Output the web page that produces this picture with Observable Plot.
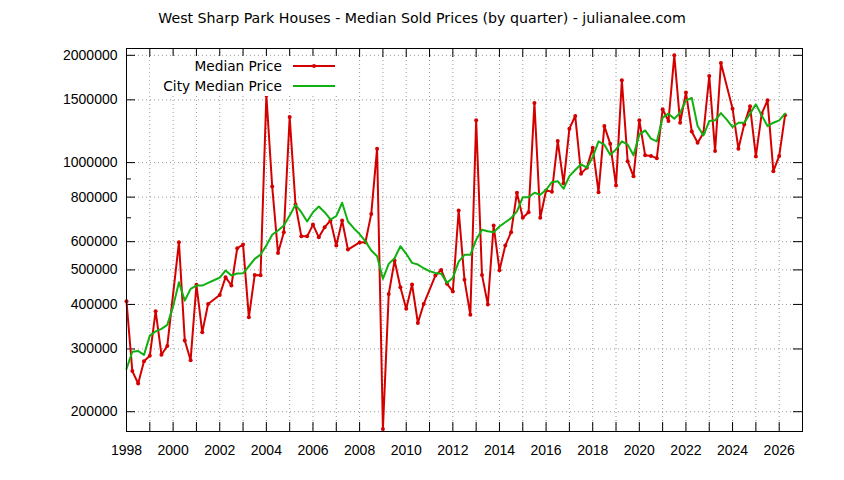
<!DOCTYPE html>
<html><head><meta charset="utf-8">
<script src="https://cdn.jsdelivr.net/npm/d3@7"></script>
<script src="https://cdn.jsdelivr.net/npm/@observablehq/plot@0.6"></script>
<style>
body{margin:0;background:#fff;font-family:"DejaVu Sans",Verdana,sans-serif;color:#000}
#wrap{position:relative;width:844px;height:480px;overflow:hidden}
#title{height:30px;line-height:37px;text-align:center;font-size:14.2px;white-space:nowrap}
#legend{position:absolute;left:150px;top:56px;width:190px;background:#fff;font-size:13.7px;padding:0}
.row{display:flex;align-items:center;height:20px}
.row span{display:inline-block;width:132px;text-align:right;margin-right:11px;white-space:nowrap}
</style></head><body>
<div id="wrap">
<div id="title">West Sharp Park Houses - Median Sold Prices (by quarter) - julianalee.com</div>
<div id="chart"></div>
<div id="legend"></div>
</div>
<script>
// quarterly series, first value = 1998 Q1; null = no sales that quarter
const startYear = 1998;
const medianPrice = [
  408000, 260000, 240000, 277000,
  287000, 383000, 289000, 306000,
  null, 598000, 317000, 279000,
  454000, 334000, 401000, null,
  425000, 477000, 452000, 575000,
  589000, 368000, 484000, 483000,
  1544000, 857000, 558000, 638000,
  1342000, 763000, 621000, 621000,
  670000, 617000, 659000, 688000,
  585000, 688000, 570000, null,
  597000, 598000, 718000, 1094000,
  179000, 428000, 531000, 447000,
  389000, 455000, 355000, 401000,
  null, 482000, 500000, 457000,
  435000, 734000, 469000, 374000,
  1314000, 484000, 400000, 666000,
  499000, 585000, 638000, 823000,
  700000, 726000, 1469000, 700000,
  835000, 829000, 1149000, 875000,
  1245000, 1351000, 931000, 968000,
  1101000, 826000, 1266000, 1130000,
  863000, 1702000, 1008000, 915000,
  1314000, 1048000, 1044000, 1029000,
  1411000, 1308000, 2000000, 1294000,
  1572000, 1223000, 1137000, 1210000,
  1750000, 1077000, 1903000, null,
  1417000, 1094000, 1280000, 1438000,
  1041000, 1372000, 1495000, 946000,
  1044000, 1357000
];
const cityMedianPrice = [
  263600, 294800, 296000, 288600,
  327000, 336200, 341500, 350400,
  395000, 461600, 410000, 442300,
  451800, 451800, 459800, 467600,
  475800, 498000, 482000, 488300,
  489000, 511900, 537000, 552000,
  585000, 627200, 645000, 666000,
  710600, 761600, 726000, 683600,
  726000, 753200, 726000, 692400,
  707500, 771500, 683600, 654600,
  630000, 601000, 566600, 546000,
  471800, 519900, 539100, 582600,
  554700, 523300, 517600, 505300,
  496000, 490000, 488000, 459800,
  474900, 527700, 551100, 551100,
  607200, 647800, 642000, 637800,
  661800, 680400, 698300, 729300,
  800000, 800000, 823000, 812400,
  839100, 881000, 887000, 844600,
  916400, 953000, 989000, 967600,
  1036000, 1147000, 1123000, 1052000,
  1089000, 1147000, 1123000, 1048000,
  1198000, 1231000, 1167000, 1147000,
  1337000, 1372000, 1328000, 1381000,
  1495000, 1518000, 1266000, 1192000,
  1308000, 1314000, 1377000, 1320000,
  1258000, 1294000, 1294000, 1372000,
  1457000, 1357000, 1266000, 1294000,
  1314000, 1372000
];
const seriesNames = ["Median Price", "City Median Price"];
const seriesColors = ["#d40000", "#10b010"];
const xDomain = [1998, 2027];
const xLabelYears = [1998, 2000, 2002, 2004, 2006, 2008, 2010, 2012, 2014, 2016, 2018, 2020, 2022, 2024, 2026];
const xTickYears = d3.range(1999, 2027);
const yDomain = [176000, 2090000];
const yTickValues = [200000, 300000, 400000, 500000, 600000, 800000, 1000000, 1500000, 2000000];
const yMinorTicks = [700000, 900000];

const medianRows = medianPrice.map((v, i) => ({t: startYear + i / 4, v})).filter(d => d.v != null);
const cityRows = cityMedianPrice.map((v, i) => ({t: startYear + i / 4, v})).filter(d => d.v != null);

const W = 844, H = 450, mt = 18, mb = 49, ml = 126, mr = 42;
const fh = H - mt - mb, fw = W - ml - mr;
const gridStyle = {stroke: "#999", strokeWidth: 1, strokeDasharray: "1,3"};

const chart = Plot.plot({
  width: W, height: H,
  marginTop: mt, marginBottom: mb, marginLeft: ml, marginRight: mr,
  style: {fontFamily: "'Liberation Sans', Arial, sans-serif", fontSize: "14px", background: "#fff", color: "#000"},
  x: {domain: xDomain, ticks: xLabelYears, tickFormat: "d", tickSize: 0, tickPadding: 14, label: null},
  y: {type: "log", domain: yDomain, ticks: yTickValues, tickFormat: d3.format("d"), tickSize: 0, tickPadding: 9, label: null},
  marks: [
    Plot.ruleX(xTickYears, {x: d => d, ...gridStyle}),
    Plot.ruleY(yTickValues, {y: d => d, ...gridStyle}),
    Plot.tickX(xTickYears, {x: d => d, stroke: "#000", insetTop: fh - 9}),
    Plot.tickX(xTickYears, {x: d => d, stroke: "#000", insetBottom: fh - 9}),
    Plot.tickY(yTickValues, {y: d => d, stroke: "#000", insetRight: fw - 9}),
    Plot.tickY(yTickValues, {y: d => d, stroke: "#000", insetLeft: fw - 9}),
    Plot.tickY(yMinorTicks, {y: d => d, stroke: "#000", insetRight: fw - 5}),
    Plot.tickY(yMinorTicks, {y: d => d, stroke: "#000", insetLeft: fw - 5}),
    Plot.line(medianRows, {x: "t", y: "v", stroke: seriesColors[0], strokeWidth: 2}),
    Plot.dot(medianRows, {x: "t", y: "v", r: 2, fill: seriesColors[0], stroke: "none"}),
    Plot.line(cityRows, {x: "t", y: "v", stroke: seriesColors[1], strokeWidth: 2}),
    Plot.frame({stroke: "#000", strokeWidth: 1})
  ]
});
document.getElementById("chart").appendChild(chart);

const legend = document.getElementById("legend");
seriesNames.forEach((name, i) => {
  const row = document.createElement("div");
  row.className = "row";
  const label = document.createElement("span");
  label.textContent = name;
  row.appendChild(label);
  const sw = d3.create("svg").attr("width", 42).attr("height", 20);
  sw.append("line").attr("x1", 0).attr("x2", 42).attr("y1", 10).attr("y2", 10)
    .attr("stroke", seriesColors[i]).attr("stroke-width", 2);
  if (i === 0) sw.append("circle").attr("cx", 21).attr("cy", 10).attr("r", 2).attr("fill", seriesColors[i]);
  row.appendChild(sw.node());
  legend.appendChild(row);
});
</script>
</body></html>
